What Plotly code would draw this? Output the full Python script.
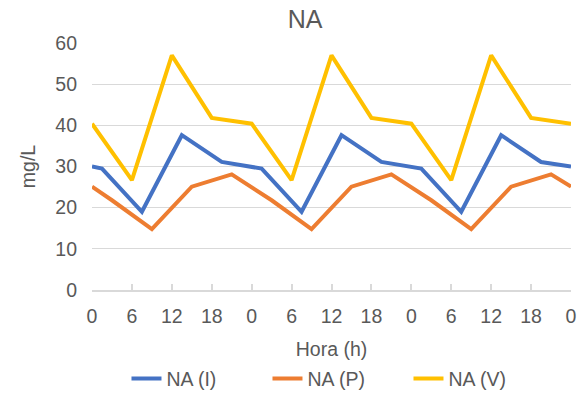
import plotly.graph_objects as go

# Elapsed time (h) over three days and measured NA concentration (mg/L)
hours_i = [0, 1.5, 7.5, 13.5, 19.5, 25.5, 31.5, 37.5, 43.5, 49.5, 55.5, 61.5, 67.5, 72]
na_i = [30.0, 29.5, 19.0, 37.6, 31.1, 29.5, 19.0, 37.6, 31.1, 29.5, 19.0, 37.6, 31.1, 30.0]

hours_p = [0, 3, 9, 15, 21, 27, 33, 39, 45, 51, 57, 63, 69, 72]
na_p = [25.1, 21.8, 14.8, 25.1, 28.1, 21.8, 14.8, 25.1, 28.1, 21.8, 14.8, 25.1, 28.1, 25.1]

hours_v = [0, 6, 12, 18, 24, 30, 36, 42, 48, 54, 60, 66, 72]
na_v = [40.4, 26.7, 57.0, 41.8, 40.4, 26.7, 57.0, 41.8, 40.4, 26.7, 57.0, 41.8, 40.4]

tick_vals = [0, 6, 12, 18, 24, 30, 36, 42, 48, 54, 60, 66, 72]
tick_text = ["0", "6", "12", "18", "0", "6", "12", "18", "0", "6", "12", "18", "0"]

series = [
    ("NA (I)", hours_i, na_i, "#4472C4"),
    ("NA (P)", hours_p, na_p, "#ED7D31"),
    ("NA (V)", hours_v, na_v, "#FFC000"),
]

FONT = "Liberation Sans, Arial, sans-serif"
TEXT = "#595959"
GRID = "#D9D9D9"
FS = 19.5

fig = go.Figure()
for name, x, y, color in series:
    fig.add_trace(go.Scatter(
        x=x, y=y, name=name, mode="lines",
        line=dict(color=color, width=4),
    ))

fig.update_layout(
    width=583, height=396,
    margin=dict(l=92, r=12, t=43, b=106, autoexpand=False),
    paper_bgcolor="white", plot_bgcolor="white",
    font=dict(family=FONT, size=FS, color=TEXT),
    title=dict(text="NA", x=305 / 583, xanchor="center", y=1 - 19 / 396, yanchor="middle",
               font=dict(family=FONT, size=25, color=TEXT)),
    showlegend=True,
    legend=dict(orientation="h", x=0.072, xanchor="left", y=-0.36, yanchor="middle",
                entrywidth=96, entrywidthmode="pixels",
                font=dict(family=FONT, size=FS, color=TEXT),
                bgcolor="rgba(0,0,0,0)"),
)

fig.update_xaxes(
    range=[0, 72], tickmode="array", tickvals=tick_vals, ticktext=tick_text,
    showgrid=False, zeroline=False,
    showline=True, linecolor=GRID, linewidth=1.5,
    ticks="inside", ticklen=6, tickcolor=GRID, tickwidth=1.5,
    ticklabelstandoff=8,
    title=dict(text="Hora (h)", standoff=16, font=dict(family=FONT, size=FS, color=TEXT)),
    automargin=False,
)
fig.update_yaxes(
    range=[0, 60], dtick=10,
    showgrid=True, gridcolor=GRID, gridwidth=1,
    zeroline=False, showline=False, ticks="",
    ticklabelstandoff=14,
    title=dict(text="mg/L", standoff=14, font=dict(family=FONT, size=FS, color=TEXT)),
    automargin=False,
)

fig.write_html("out.html")
